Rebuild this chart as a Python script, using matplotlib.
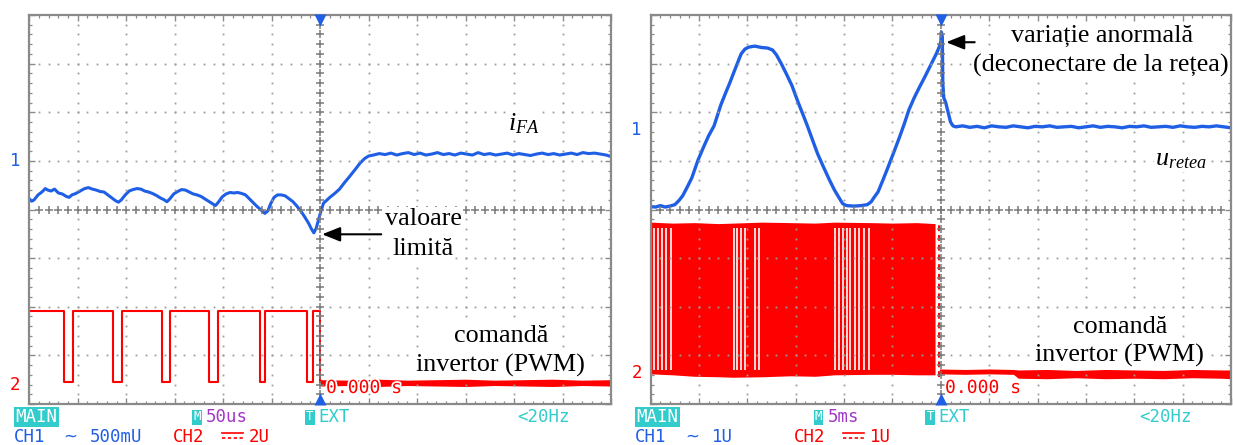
import numpy as np
import matplotlib
matplotlib.use("Agg")
import matplotlib.pyplot as plt
from matplotlib import patheffects as pe

plt.rcParams["mathtext.fontset"] = "custom"
plt.rcParams["mathtext.it"] = "Liberation Serif:italic"
plt.rcParams["mathtext.rm"] = "Liberation Serif"

W, H, DPI = 1233, 445, 100
NX, NY = 12, 8          # graticule divisions (horizontal, vertical)

BLUE = "#1f5fe6"
RED = "#ff0000"
CYAN = "#33cccc"
PURPLE = "#a236c6"
GRID = "#9c9c9c"
FRAME = "#8a8a8a"

# ---------------------------------------------------------------
# Left screen (50 us/div): filter current i_FA (CH1) and PWM command (CH2)
# positions in screen divisions
# ---------------------------------------------------------------
ifa_t = [0.00, 0.05, 0.10, 0.18, 0.26, 0.33, 0.38, 0.45, 0.52, 0.60, 0.68, 0.76,
         0.82, 0.88, 0.96, 1.05, 1.14, 1.22, 1.30, 1.38, 1.46, 1.54, 1.62, 1.70,
         1.78, 1.84, 1.90, 1.98, 2.06, 2.14, 2.22, 2.30, 2.38, 2.46, 2.54, 2.62,
         2.70, 2.78, 2.84, 2.90, 2.98, 3.06, 3.14, 3.22, 3.30, 3.38, 3.46, 3.54,
         3.62, 3.70, 3.78, 3.84, 3.90, 3.98, 4.06, 4.14, 4.22, 4.30, 4.38, 4.46,
         4.54, 4.62, 4.70, 4.78, 4.86, 4.92, 4.98, 5.05, 5.12, 5.20, 5.28, 5.36,
         5.44, 5.52, 5.60, 5.68, 5.76, 5.82, 5.87, 5.92, 5.97, 6.02, 6.07, 6.20,
         6.30, 6.40, 6.50, 6.60, 6.72, 6.82, 6.92, 7.00, 7.10, 7.22, 7.34, 7.46,
         7.58, 7.70, 7.82, 7.94, 8.06, 8.18, 8.30, 8.42, 8.54, 8.66, 8.78, 8.90,
         9.02, 9.14, 9.26, 9.38, 9.50, 9.62, 9.74, 9.86, 9.98, 10.10, 10.22, 10.34,
         10.46, 10.58, 10.70, 10.82, 10.94, 11.06, 11.18, 11.30, 11.42, 11.54,
         11.66, 11.78, 11.90, 12.00]
ifa_v = [4.22, 4.17, 4.20, 4.30, 4.36, 4.43, 4.40, 4.38, 4.42, 4.34, 4.32, 4.27,
         4.25, 4.30, 4.33, 4.38, 4.43, 4.45, 4.42, 4.40, 4.37, 4.36, 4.30, 4.24,
         4.18, 4.15, 4.20, 4.30, 4.38, 4.41, 4.43, 4.42, 4.38, 4.36, 4.33, 4.29,
         4.24, 4.20, 4.16, 4.22, 4.32, 4.37, 4.41, 4.40, 4.36, 4.32, 4.30, 4.27,
         4.22, 4.17, 4.12, 4.08, 4.15, 4.26, 4.32, 4.35, 4.34, 4.35, 4.33, 4.30,
         4.22, 4.14, 4.06, 3.99, 3.92, 3.97, 4.12, 4.25, 4.30, 4.30, 4.28, 4.22,
         4.16, 4.07, 3.97, 3.85, 3.72, 3.60, 3.52, 3.62, 3.80, 3.98, 4.13, 4.25,
         4.33, 4.42, 4.55, 4.67, 4.82, 4.95, 5.05, 5.10, 5.12, 5.15, 5.13, 5.16,
         5.12, 5.15, 5.17, 5.13, 5.16, 5.12, 5.14, 5.17, 5.13, 5.15, 5.12, 5.16,
         5.14, 5.12, 5.17, 5.13, 5.15, 5.12, 5.14, 5.16, 5.12, 5.15, 5.13, 5.11,
         5.14, 5.16, 5.13, 5.15, 5.12, 5.14, 5.16, 5.13, 5.17, 5.15,
         5.16, 5.14, 5.12, 5.09]

cmd1_fall = [0.72, 1.73, 2.73, 3.71, 4.75, 5.72]
cmd1_rise = [0.91, 1.91, 2.90, 3.90, 4.87, 5.86]
cmd1_high = 1.92
cmd1_low = 0.45
cmd1_off = 6.00
cmd1_tail_x = [6.00, 6.6, 7.2, 7.8, 8.4, 9.0, 9.6, 10.2, 10.8, 11.4, 12.0]
cmd1_tail_lo = [0.37, 0.38, 0.36, 0.38, 0.37, 0.36, 0.38, 0.37, 0.36, 0.38, 0.37]
cmd1_tail_hi = [0.50, 0.49, 0.51, 0.49, 0.50, 0.51, 0.49, 0.50, 0.51, 0.49, 0.50]

# ---------------------------------------------------------------
# Right screen (5 ms/div): grid voltage u_retea (CH1) and PWM command (CH2)
# ---------------------------------------------------------------
ure_t = [0.00, 0.10, 0.20, 0.30, 0.40, 0.50, 0.58, 0.66, 0.75, 0.85, 0.98, 1.10,
         1.20, 1.31, 1.45, 1.55, 1.63, 1.75, 1.87, 1.95, 2.03, 2.15, 2.30, 2.42,
         2.52, 2.60, 2.70, 2.80, 2.92, 3.05, 3.15, 3.24, 3.35, 3.45, 3.57, 3.70,
         3.80, 3.89, 3.97, 4.05, 4.20, 4.35, 4.48, 4.56, 4.62, 4.70, 4.80, 4.90,
         5.02, 5.15, 5.25, 5.34, 5.45, 5.56, 5.67, 5.78, 5.91, 5.97, 6.00, 6.01,
         6.03, 6.04, 6.06, 6.10, 6.15, 6.20, 6.25, 6.31, 6.45, 6.60, 6.75, 6.90,
         7.05, 7.20, 7.35, 7.50, 7.65, 7.80, 7.95, 8.10, 8.25, 8.40, 8.55, 8.70,
         8.85, 9.00, 9.15, 9.30, 9.45, 9.60, 9.75, 9.90, 10.05, 10.20, 10.35,
         10.50, 10.65, 10.80, 10.95, 11.10, 11.25, 11.40, 11.55, 11.70, 11.85, 12.00]
ure_v = [4.06, 4.05, 4.08, 4.05, 4.07, 4.10, 4.18, 4.28, 4.45, 4.65, 5.02, 5.30,
         5.52, 5.72, 6.15, 6.40, 6.59, 6.90, 7.20, 7.30, 7.34, 7.36, 7.33, 7.32,
         7.28, 7.18, 7.00, 6.80, 6.55, 6.20, 5.95, 5.72, 5.42, 5.15, 4.88, 4.60,
         4.40, 4.25, 4.12, 4.08, 4.07, 4.08, 4.10, 4.16, 4.25, 4.36, 4.60, 4.85,
         5.16, 5.50, 5.78, 6.05, 6.30, 6.52, 6.73, 6.95, 7.21, 7.35, 7.45, 7.65,
         7.55, 6.60, 6.30, 6.20, 6.00, 5.80, 5.72, 5.70, 5.72, 5.69, 5.71, 5.68,
         5.72, 5.70, 5.69, 5.72, 5.70, 5.68, 5.71, 5.70, 5.72, 5.69, 5.70, 5.71,
         5.68, 5.70, 5.72, 5.69, 5.71, 5.70, 5.68, 5.71, 5.70, 5.72, 5.69,
         5.70, 5.71, 5.69, 5.72, 5.70, 5.69, 5.71, 5.70, 5.72, 5.70, 5.68]

cmd2_x = [0.00, 0.45, 0.90, 1.40, 1.70, 2.30, 2.90, 3.40, 3.80, 4.55, 5.00, 5.50, 5.88]
cmd2_top = [3.74, 3.72, 3.73, 3.71, 3.72, 3.74, 3.73, 3.72, 3.74, 3.73, 3.72, 3.73, 3.71]
cmd2_bot = [0.62, 0.60, 0.57, 0.56, 0.55, 0.56, 0.58, 0.57, 0.60, 0.61, 0.61, 0.60, 0.60]
cmd2_gaps = [0.07, 0.16, 0.23, 0.32, 0.41,
             1.73, 1.79, 1.86, 1.94, 2.16, 2.23,
             3.81, 3.89, 3.97, 4.05, 4.13, 4.22, 4.31, 4.41, 4.51]
cmd2_off = 5.97
cmd2_tail_x = [5.97, 6.5, 7.0, 7.5, 7.6, 8.2, 8.8, 9.4, 10.0, 10.6, 11.2, 11.8, 12.0]
cmd2_tail_lo = [0.62, 0.61, 0.62, 0.61, 0.53, 0.52, 0.54, 0.52, 0.53, 0.52, 0.54, 0.53, 0.52]
cmd2_tail_hi = [0.72, 0.71, 0.72, 0.71, 0.70, 0.71, 0.69, 0.71, 0.70, 0.69, 0.71, 0.70, 0.70]

# channel reference levels (divisions)
ch1_ref = [5.00, 5.64]
ch2_ref = [0.39, 0.63]

fig = plt.figure(figsize=(W / DPI, H / DPI), dpi=DPI)


def px_axes(x0, y0, x1, y1):
    return fig.add_axes([x0 / W, 1 - y1 / H, (x1 - x0) / W, (y1 - y0) / H])


def fx(x):
    return x / W


def fy(y):
    return 1 - y / H


def graticule(ax):
    ax.set_xlim(0, NX)
    ax.set_ylim(0, NY)
    for s in ax.spines.values():
        s.set_color(FRAME)
        s.set_linewidth(1.6)
        s.set_zorder(8)
    ax.set_xticks(range(NX + 1))
    ax.set_yticks(range(NY + 1))
    ax.set_xticks(np.arange(0, NX * 5 + 1) / 5, minor=True)
    ax.set_yticks(np.arange(0, NY * 5 + 1) / 5, minor=True)
    ax.tick_params(which="both", direction="in", top=True, right=True,
                   labelbottom=False, labelleft=False, color=FRAME)
    ax.tick_params(which="major", length=4, width=1.0)
    ax.tick_params(which="minor", length=2.2, width=0.9)
    fine_x = np.arange(1, NX * 5) / 5
    fine_y = np.arange(1, NY * 5) / 5
    for k in range(1, NX):
        if k != NX // 2:
            ax.plot(np.full_like(fine_y, k), fine_y, ls="none", marker="s", ms=1.3,
                    mfc=GRID, mec="none", zorder=5)
    for k in range(1, NY):
        if k != NY // 2:
            ax.plot(fine_x, np.full_like(fine_x, k), ls="none", marker="s", ms=1.3,
                    mfc=GRID, mec="none", zorder=5)
    ax.plot(np.full_like(fine_y, NX / 2), fine_y, ls="none", marker="+", ms=5.5,
            mew=1.1, color="#7a7a7a", zorder=5)
    ax.plot(fine_x, np.full_like(fine_x, NY / 2), ls="none", marker="+", ms=5.5,
            mew=1.1, color="#7a7a7a", zorder=5)
    ax.plot([NX / 2], [NY - 0.1], marker="v", ms=8, color=BLUE, mec="none",
            clip_on=False, zorder=9)
    ax.plot([NX / 2], [0.1], marker="^", ms=8, color=BLUE, mec="none",
            clip_on=False, zorder=9)


def pwm_steps(fall, rise, high, low, off):
    xs, ys = [0.0], [high]
    for f, r in zip(fall, rise):
        xs += [f, f, r, r]
        ys += [high, low, low, high]
    xs += [off, off]
    ys += [high, low]
    return xs, ys


axL = px_axes(29.3, 15, 611, 404)
axR = px_axes(650.7, 15, 1231, 404)
graticule(axL)
graticule(axR)

# ---- left traces
axL.plot(ifa_t, ifa_v, color=BLUE, lw=2.2, zorder=3, solid_joinstyle="round")
sx, sy = pwm_steps(cmd1_fall, cmd1_rise, cmd1_high, cmd1_low, cmd1_off)
axL.plot(sx, sy, color=RED, lw=1.5, zorder=3)
axL.fill_between(cmd1_tail_x, cmd1_tail_lo, cmd1_tail_hi, color=RED, lw=0, zorder=3)

# ---- right traces
axR.plot(ure_t, ure_v, color=BLUE, lw=2.4, zorder=3, solid_joinstyle="round")
axR.fill_between(cmd2_x, cmd2_bot, cmd2_top, color=RED, lw=0, zorder=3)
axR.vlines(cmd2_gaps, 0.70, 3.62, color="white", lw=1.2, zorder=3.2)
axR.vlines([cmd2_off], min(cmd2_bot), max(cmd2_top), color=RED, lw=1.4,
           linestyles=(0, (3, 2)), zorder=3)
axR.fill_between(cmd2_tail_x, cmd2_tail_lo, cmd2_tail_hi, color=RED, lw=0, zorder=3)

# ---- channel markers
mono = dict(family="DejaVu Sans Mono", fontsize=12.5)
fig.text(fx(14.7), axL.transData.transform((0, ch1_ref[0]))[1] / H, "1", color=BLUE,
         ha="center", va="center", **mono)
fig.text(fx(14.7), axL.transData.transform((0, ch2_ref[0]))[1] / H, "2", color=RED,
         ha="center", va="center", **mono)
fig.text(fx(636.6), axR.transData.transform((0, ch1_ref[1]))[1] / H, "1", color=BLUE,
         ha="center", va="center", **mono)
fig.text(fx(636.6), axR.transData.transform((0, ch2_ref[1]))[1] / H, "2", color=RED,
         ha="center", va="center", **mono)

# ---- trigger time stamps
stamp = dict(family="DejaVu Sans Mono", fontsize=13, color=RED, ha="left", va="center",
             path_effects=[pe.withStroke(linewidth=2.5, foreground="white")], zorder=10)
fig.text(fx(326), fy(388), "0.000 s", **stamp)
fig.text(fx(945), fy(388), "0.000 s", **stamp)


# ---- status lines
def status(xmain, xm, m_text, xt, xhz, ch):
    y1, y2 = fy(417), fy(437)
    box = dict(boxstyle="square,pad=0.08", fc=CYAN, ec="none")
    fig.text(fx(xmain), y1, "MAIN", color="white", ha="left", va="center", bbox=box, **mono)
    fig.text(fx(xm), y1, "M", color="white", ha="left", va="center", bbox=box,
             family="DejaVu Sans Mono", fontsize=9)
    fig.text(fx(xm + 13), y1, m_text, color=PURPLE, ha="left", va="center", **mono)
    fig.text(fx(xt), y1, "T", color="white", ha="left", va="center", bbox=box,
             family="DejaVu Sans Mono", fontsize=9)
    fig.text(fx(xt + 12), y1, "EXT", color=CYAN, ha="left", va="center", **mono)
    fig.text(fx(xhz), y1, "<20Hz", color=CYAN, ha="left", va="center", **mono)
    (xc1, xw, xv1, v1), (xc2, xd, xv2, v2) = ch
    fig.text(fx(xc1), y2, "CH1", color=BLUE, ha="left", va="center", **mono)
    fig.text(fx(xw), y2, "~", color=BLUE, ha="left", va="center",
             family="DejaVu Sans", fontsize=12)
    fig.text(fx(xv1), y2, v1, color=BLUE, ha="left", va="center", **mono)
    fig.text(fx(xc2), y2, "CH2", color=RED, ha="left", va="center", **mono)
    fig.add_artist(plt.Line2D([fx(xd), fx(xd + 21)], [fy(433), fy(433)], color=RED, lw=1.2))
    fig.add_artist(plt.Line2D([fx(xd), fx(xd + 21)], [fy(438), fy(438)], color=RED, lw=1.2,
                              ls=(0, (2, 1.5))))
    fig.text(fx(xv2), y2, v2, color=RED, ha="left", va="center", **mono)


status(15.5, 193, "50us", 306, 517, ((13.5, 63, 90, "500mU"), (173, 222, 249, "2U")))
status(636.5, 814.6, "5ms", 926.5, 1139, ((635, 685, 712, "1U"), (794, 843, 870, "1U")))

# ---- annotations
serif = dict(family="Liberation Serif", fontsize=18.8, color="black")
wbox = dict(boxstyle="square,pad=0.05", fc="white", ec="none")


def label(x, y, s, ha="center"):
    fig.text(fx(x), fy(y), s, ha=ha, va="baseline", bbox=wbox, zorder=10, **serif)


label(423.4, 225, "valoare")
label(423.4, 255, "limită")
label(500.8, 341.7, "comandă")
label(500.7, 371.7, "invertor (PWM)")
label(508, 130.7, "$i_{FA}$", ha="left")

label(1102, 41.7, "variație anormală")
label(1101, 71.7, "(deconectare de la rețea)")
label(1155, 165, "$u_{retea}$", ha="left")
label(1119.8, 333.3, "comandă")
label(1119.8, 361.7, "invertor (PWM)")

arrow = dict(arrowstyle="-|>,head_length=0.55,head_width=0.22", color="black",
             lw=1.5, mutation_scale=20, shrinkA=0, shrinkB=0)
axL.annotate("", xy=(6.04, 3.49), xytext=(7.26, 3.49), arrowprops=arrow,
             annotation_clip=False, zorder=11)
axR.annotate("", xy=(6.11, 7.44), xytext=(6.70, 7.44), arrowprops=arrow,
             annotation_clip=False, zorder=11)

fig.savefig("out.png", dpi=DPI, facecolor="white")
